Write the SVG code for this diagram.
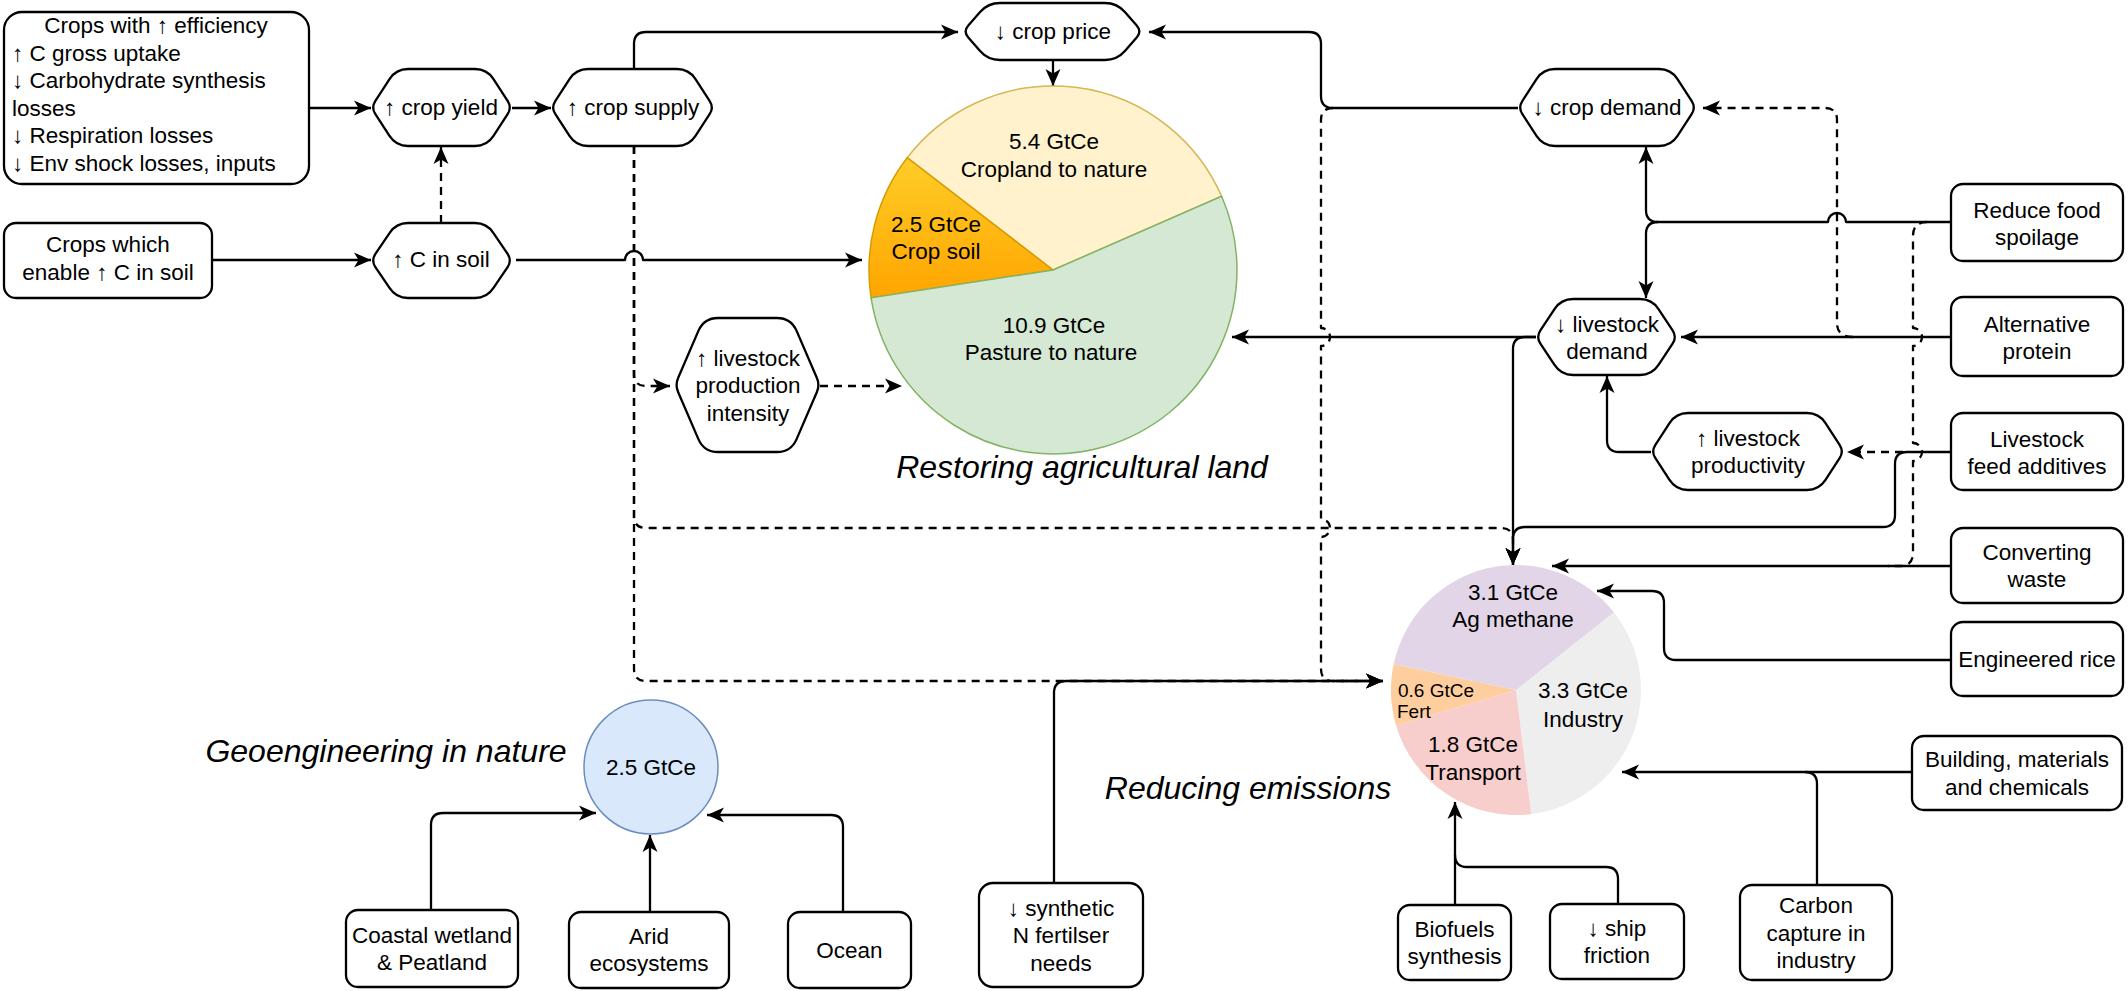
<svg xmlns="http://www.w3.org/2000/svg" width="2128" height="991" viewBox="0 0 2128 991">
<style>
.s{fill:#fff;stroke:#000;stroke-width:2.3}
.t{font-family:"Liberation Sans",Arial,sans-serif;font-size:22.5px;fill:#000;text-anchor:middle}
.l{text-anchor:start}
.sm{font-size:19px}
.ti{font-family:"Liberation Sans",Arial,sans-serif;font-size:32px;font-style:italic;fill:#000;text-anchor:middle}
.c{fill:none;stroke:#000;stroke-width:2.3;stroke-linejoin:round}
.d{stroke-dasharray:8 6}
.e{marker-end:url(#a)}
</style>
<defs>
<marker id="a" viewBox="0 0 17 16" refX="17" refY="8" markerWidth="17" markerHeight="16" markerUnits="userSpaceOnUse" orient="auto">
<path d="M0,0.5 L17,8 L0,15.5 L4.5,8 Z" fill="#000"/>
</marker>
<linearGradient id="og" x1="0" y1="0" x2="0" y2="1">
<stop offset="0" stop-color="#ffcd28"/>
<stop offset="1" stop-color="#ffa500"/>
</linearGradient>
</defs>
<rect width="2128" height="991" fill="#fff"/>

<g id="connectors">
<path class="c e" d="M309,108 H371"/>
<path class="c e" d="M512,108 H551"/>
<path class="c e" d="M212,260 H371"/>
<path class="c d e" d="M441,223 V147"/>
<path class="c e" d="M516,260 H625 A9,9 0 0 1 643,260 H862"/>
<path class="c e" d="M634,69 V44 Q634,32 646,32 H958"/>
<path class="c e" d="M1518,108 H1333 Q1321,108 1321,96 V44 Q1321,32 1309,32 H1149"/>
<path class="c e" d="M1053,60 V86"/>
<path class="c d e" d="M634,146 V374 Q634,386 646,386 H670"/>
<path class="c d e" d="M634,146 V516 Q634,528 646,528 H1501 Q1513,528 1513,540 V565"/>
<path class="c d e" d="M634,146 V669 Q634,681 646,681 H1383"/>
<path class="c d e" d="M820,386 H902"/>
<path class="c d e" d="M1333,108 Q1321,108 1321,120 V328 A9,9 0 0 1 1321,346 V519 A9,9 0 0 1 1321,537 V669 Q1321,681 1333,681 H1383"/>
<path class="c e" d="M1536,337 H1232"/>
<path class="c e" d="M1536,337 H1525 Q1513,337 1513,349 V565"/>
<path class="c e" d="M1951,222 H1846 A9,9 0 0 0 1828,222 H1658 Q1646,222 1646,210 V147"/>
<path class="c e" d="M1658,222 Q1646,222 1646,234 V298"/>
<path class="c d" d="M1927,222 Q1913,222 1913,236 V328 A9,9 0 0 1 1913,346 V443 A9,9 0 0 1 1913,461 V553 Q1913,566 1900,566 H1888"/>
<path class="c d e" d="M1853,337 Q1837,337 1837,323 V120 Q1837,108 1825,108 H1703"/>
<path class="c e" d="M1951,337 H1681"/>
<path class="c e" d="M1651,452 H1619 Q1607,452 1607,440 V376"/>
<path class="c e" d="M1951,452 H1907 Q1895,452 1895,464 V515 Q1895,527 1883,527 H1525 Q1513,527 1513,539 V565"/>
<path class="c d e" d="M1903,452 H1847"/>
<path class="c e" d="M1951,566 H1552"/>
<path class="c e" d="M1951,660 H1676 Q1664,660 1664,648 V603 Q1664,591 1652,591 H1597"/>
<path class="c e" d="M1912,772 H1622"/>
<path class="c" d="M1817,885 V784 Q1817,772 1805,772"/>
<path class="c e" d="M1455,905 V802"/>
<path class="c" d="M1618,904 V879 Q1618,867 1606,867 H1467 Q1455,867 1455,855"/>
<path class="c e" d="M1054,883 V693 Q1054,681 1066,681 H1383"/>
<path class="c e" d="M431,910 V825 Q431,813 443,813 H596"/>
<path class="c e" d="M650,912 V835"/>
<path class="c e" d="M843,912 V827 Q843,815 831,815 H707"/>
</g>

<g id="box-crops-efficiency">
<rect class="s" x="4" y="12" width="305" height="172" rx="18"/>
<text class="t" x="156" y="33">Crops with ↑ efficiency</text>
<text class="t l" x="12" y="60.6">↑ C gross uptake</text>
<text class="t l" x="12" y="88.2">↓ Carbohydrate synthesis</text>
<text class="t l" x="12" y="115.8">losses</text>
<text class="t l" x="12" y="143.4">↓ Respiration losses</text>
<text class="t l" x="12" y="171">↓ Env shock losses, inputs</text>
</g>
<g id="box-crops-soil">
<rect class="s" x="4" y="223" width="208" height="75" rx="12"/>
<text class="t" x="108" y="252">Crops which</text>
<text class="t" x="108" y="280">enable ↑ C in soil</text>
</g>
<g id="hex-crop-yield">
<path class="s" d="M408,69 H475 Q487,69 493.5,79.1 L507.6,100.8 Q512,107.5 507.6,114.2 L493.5,135.9 Q487,146 475,146 H408 Q396,146 389.5,135.9 L375.4,114.2 Q371,107.5 375.4,100.8 L389.5,79.1 Q396,69 408,69 Z"/>
<text class="t" x="441" y="115">↑ crop yield</text>
</g>
<g id="hex-crop-supply">
<path class="s" d="M588,69 H677 Q689,69 695.5,79.1 L709.6,100.8 Q714,107.5 709.6,114.2 L695.5,135.9 Q689,146 677,146 H588 Q576,146 569.5,135.9 L555.4,114.2 Q551,107.5 555.4,100.8 L569.5,79.1 Q576,69 588,69 Z"/>
<text class="t" x="633" y="115">↑ crop supply</text>
</g>
<g id="hex-c-soil">
<path class="s" d="M408,223 H475 Q487,223 493.5,233.1 L507.6,253.8 Q512,260.5 507.6,267.2 L493.5,287.9 Q487,298 475,298 H408 Q396,298 389.5,287.9 L375.4,267.2 Q371,260.5 375.4,253.8 L389.5,233.1 Q396,223 408,223 Z"/>
<text class="t" x="441" y="267">↑ C in soil</text>
</g>
<g id="hex-crop-price">
<path class="s" d="M1000,3 H1105 Q1117,3 1124.9,12 L1136.7,25.5 Q1142,31.5 1136.7,37.5 L1124.9,51 Q1117,60 1105,60 H1000 Q988,60 980.1,51 L968.3,37.5 Q963,31.5 968.3,25.5 L980.1,12 Q988,3 1000,3 Z"/>
<text class="t" x="1053" y="39">↓ crop price</text>
</g>
<g id="hex-crop-demand">
<path class="s" d="M1555,69 H1659 Q1671,69 1677.5,79.1 L1691.6,100.8 Q1696,107.5 1691.6,114.2 L1677.5,135.9 Q1671,146 1659,146 H1555 Q1543,146 1536.5,135.9 L1522.4,114.2 Q1518,107.5 1522.4,100.8 L1536.5,79.1 Q1543,69 1555,69 Z"/>
<text class="t" x="1607" y="115">↓ crop demand</text>
</g>
<g id="hex-livestock-demand">
<path class="s" d="M1573,299 H1640 Q1652,299 1658.5,309.1 L1672.6,330.3 Q1677,337 1672.6,343.7 L1658.5,364.9 Q1652,375 1640,375 H1573 Q1561,375 1554.5,364.9 L1540.4,343.7 Q1536,337 1540.4,330.3 L1554.5,309.1 Q1561,299 1573,299 Z"/>
<text class="t" x="1607" y="332">↓ livestock</text>
<text class="t" x="1607" y="359">demand</text>
</g>
<g id="hex-livestock-productivity">
<path class="s" d="M1688,413 H1807 Q1819,413 1825.5,423.1 L1839.6,444.8 Q1844,451.5 1839.6,458.2 L1825.5,479.9 Q1819,490 1807,490 H1688 Q1676,490 1669.5,479.9 L1655.4,458.2 Q1651,451.5 1655.4,444.8 L1669.5,423.1 Q1676,413 1688,413 Z"/>
<text class="t" x="1748" y="446">↑ livestock</text>
<text class="t" x="1748" y="473">productivity</text>
</g>
<g id="hex-production-intensity">
<path class="s" d="M718,318 H777 Q791,318 796.6,330.9 L816.8,377.7 Q820,385 816.8,392.3 L796.6,439.1 Q791,452 777,452 H718 Q704,452 698.4,439.1 L678.2,392.3 Q675,385 678.2,377.7 L698.4,330.9 Q704,318 718,318 Z"/>
<text class="t" x="748" y="366">↑ livestock</text>
<text class="t" x="748" y="393">production</text>
<text class="t" x="748" y="421">intensity</text>
</g>

<g id="pie-land">
<path d="M1053,270 L907.2,157.7 A184,184 0 0 1 1221.6,196.3 Z" fill="#fff2cc" stroke="#d6b656" stroke-width="1.5"/>
<path d="M1053,270 L871.1,297.8 A184,184 0 0 1 907.2,157.7 Z" fill="url(#og)" stroke="#d79b00" stroke-width="1.5"/>
<path d="M1053,270 L1221.6,196.3 A184,184 0 1 1 871.1,297.8 Z" fill="#d5e8d4" stroke="#82b366" stroke-width="1.5"/>
<text class="t" x="1054" y="149">5.4 GtCe</text>
<text class="t" x="1054" y="177">Cropland to nature</text>
<text class="t" x="936" y="232">2.5 GtCe</text>
<text class="t" x="936" y="259">Crop soil</text>
<text class="t" x="1054" y="333">10.9 GtCe</text>
<text class="t" x="1051" y="360">Pasture to nature</text>
<text class="ti" x="1082" y="478">Restoring agricultural land</text>
</g>

<g id="pie-emissions">
<path d="M1516,690 L1613.8,612.2 A125,125 0 0 1 1531.2,814.1 Z" fill="#eeeeee"/>
<path d="M1516,690 L1531.2,814.1 A125,125 0 0 1 1396.1,725.5 Z" fill="#f8cecc"/>
<path d="M1516,690 L1396.1,725.5 A125,125 0 0 1 1393.7,664 Z" fill="#ffce9f"/>
<path d="M1516,690 L1393.7,664 A125,125 0 0 1 1613.8,612.2 Z" fill="#e1d5e7"/>
<text class="t" x="1513" y="600">3.1 GtCe</text>
<text class="t" x="1513" y="627">Ag methane</text>
<text class="t sm l" x="1398" y="697">0.6 GtCe</text>
<text class="t sm l" x="1397" y="718">Fert</text>
<text class="t" x="1583" y="698">3.3 GtCe</text>
<text class="t" x="1583" y="727">Industry</text>
<text class="t" x="1473" y="752">1.8 GtCe</text>
<text class="t" x="1473" y="780">Transport</text>
<text class="ti" x="1248" y="799">Reducing emissions</text>
</g>

<g id="pie-geo">
<circle cx="651" cy="767" r="67" fill="#dae8fc" stroke="#6c8ebf" stroke-width="1.5"/>
<text class="t" x="651" y="775">2.5 GtCe</text>
<text class="ti" x="386" y="762">Geoengineering in nature</text>
</g>

<g id="box-reduce-spoilage">
<rect class="s" x="1951" y="184" width="172" height="77" rx="12"/>
<text class="t" x="2037" y="217.5">Reduce food</text>
<text class="t" x="2037" y="245">spoilage</text>
</g>
<g id="box-alt-protein">
<rect class="s" x="1951" y="297" width="172" height="79" rx="12"/>
<text class="t" x="2037" y="331.5">Alternative</text>
<text class="t" x="2037" y="359">protein</text>
</g>
<g id="box-feed-additives">
<rect class="s" x="1951" y="413" width="172" height="77" rx="12"/>
<text class="t" x="2037" y="446.5">Livestock</text>
<text class="t" x="2037" y="474">feed additives</text>
</g>
<g id="box-converting-waste">
<rect class="s" x="1951" y="528" width="172" height="75" rx="12"/>
<text class="t" x="2037" y="560">Converting</text>
<text class="t" x="2037" y="587">waste</text>
</g>
<g id="box-engineered-rice">
<rect class="s" x="1951" y="622" width="172" height="74" rx="12"/>
<text class="t" x="2037" y="667">Engineered rice</text>
</g>
<g id="box-building">
<rect class="s" x="1912" y="736" width="210" height="74" rx="12"/>
<text class="t" x="2017" y="767">Building, materials</text>
<text class="t" x="2017" y="795">and chemicals</text>
</g>
<g id="box-carbon-capture">
<rect class="s" x="1740" y="885" width="152" height="95" rx="12"/>
<text class="t" x="1816" y="913">Carbon</text>
<text class="t" x="1816" y="940.5">capture in</text>
<text class="t" x="1816" y="968">industry</text>
</g>
<g id="box-ship-friction">
<rect class="s" x="1550" y="904" width="134" height="75" rx="12"/>
<text class="t" x="1617" y="936">↓ ship</text>
<text class="t" x="1617" y="963">friction</text>
</g>
<g id="box-biofuels">
<rect class="s" x="1398" y="905" width="113" height="75" rx="12"/>
<text class="t" x="1454.5" y="937">Biofuels</text>
<text class="t" x="1454.5" y="964">synthesis</text>
</g>
<g id="box-n-fertiliser">
<rect class="s" x="979" y="883" width="164" height="104" rx="14"/>
<text class="t" x="1061" y="915.5">↓ synthetic</text>
<text class="t" x="1061" y="943">N fertilser</text>
<text class="t" x="1061" y="970.5">needs</text>
</g>
<g id="box-ocean">
<rect class="s" x="788" y="912" width="123" height="76" rx="12"/>
<text class="t" x="849.5" y="958">Ocean</text>
</g>
<g id="box-arid">
<rect class="s" x="569" y="912" width="160" height="76" rx="12"/>
<text class="t" x="649" y="944">Arid</text>
<text class="t" x="649" y="971">ecosystems</text>
</g>
<g id="box-coastal">
<rect class="s" x="346" y="910" width="172" height="77" rx="12"/>
<text class="t" x="432" y="943">Coastal wetland</text>
<text class="t" x="432" y="970">&amp; Peatland</text>
</g>
</svg>
